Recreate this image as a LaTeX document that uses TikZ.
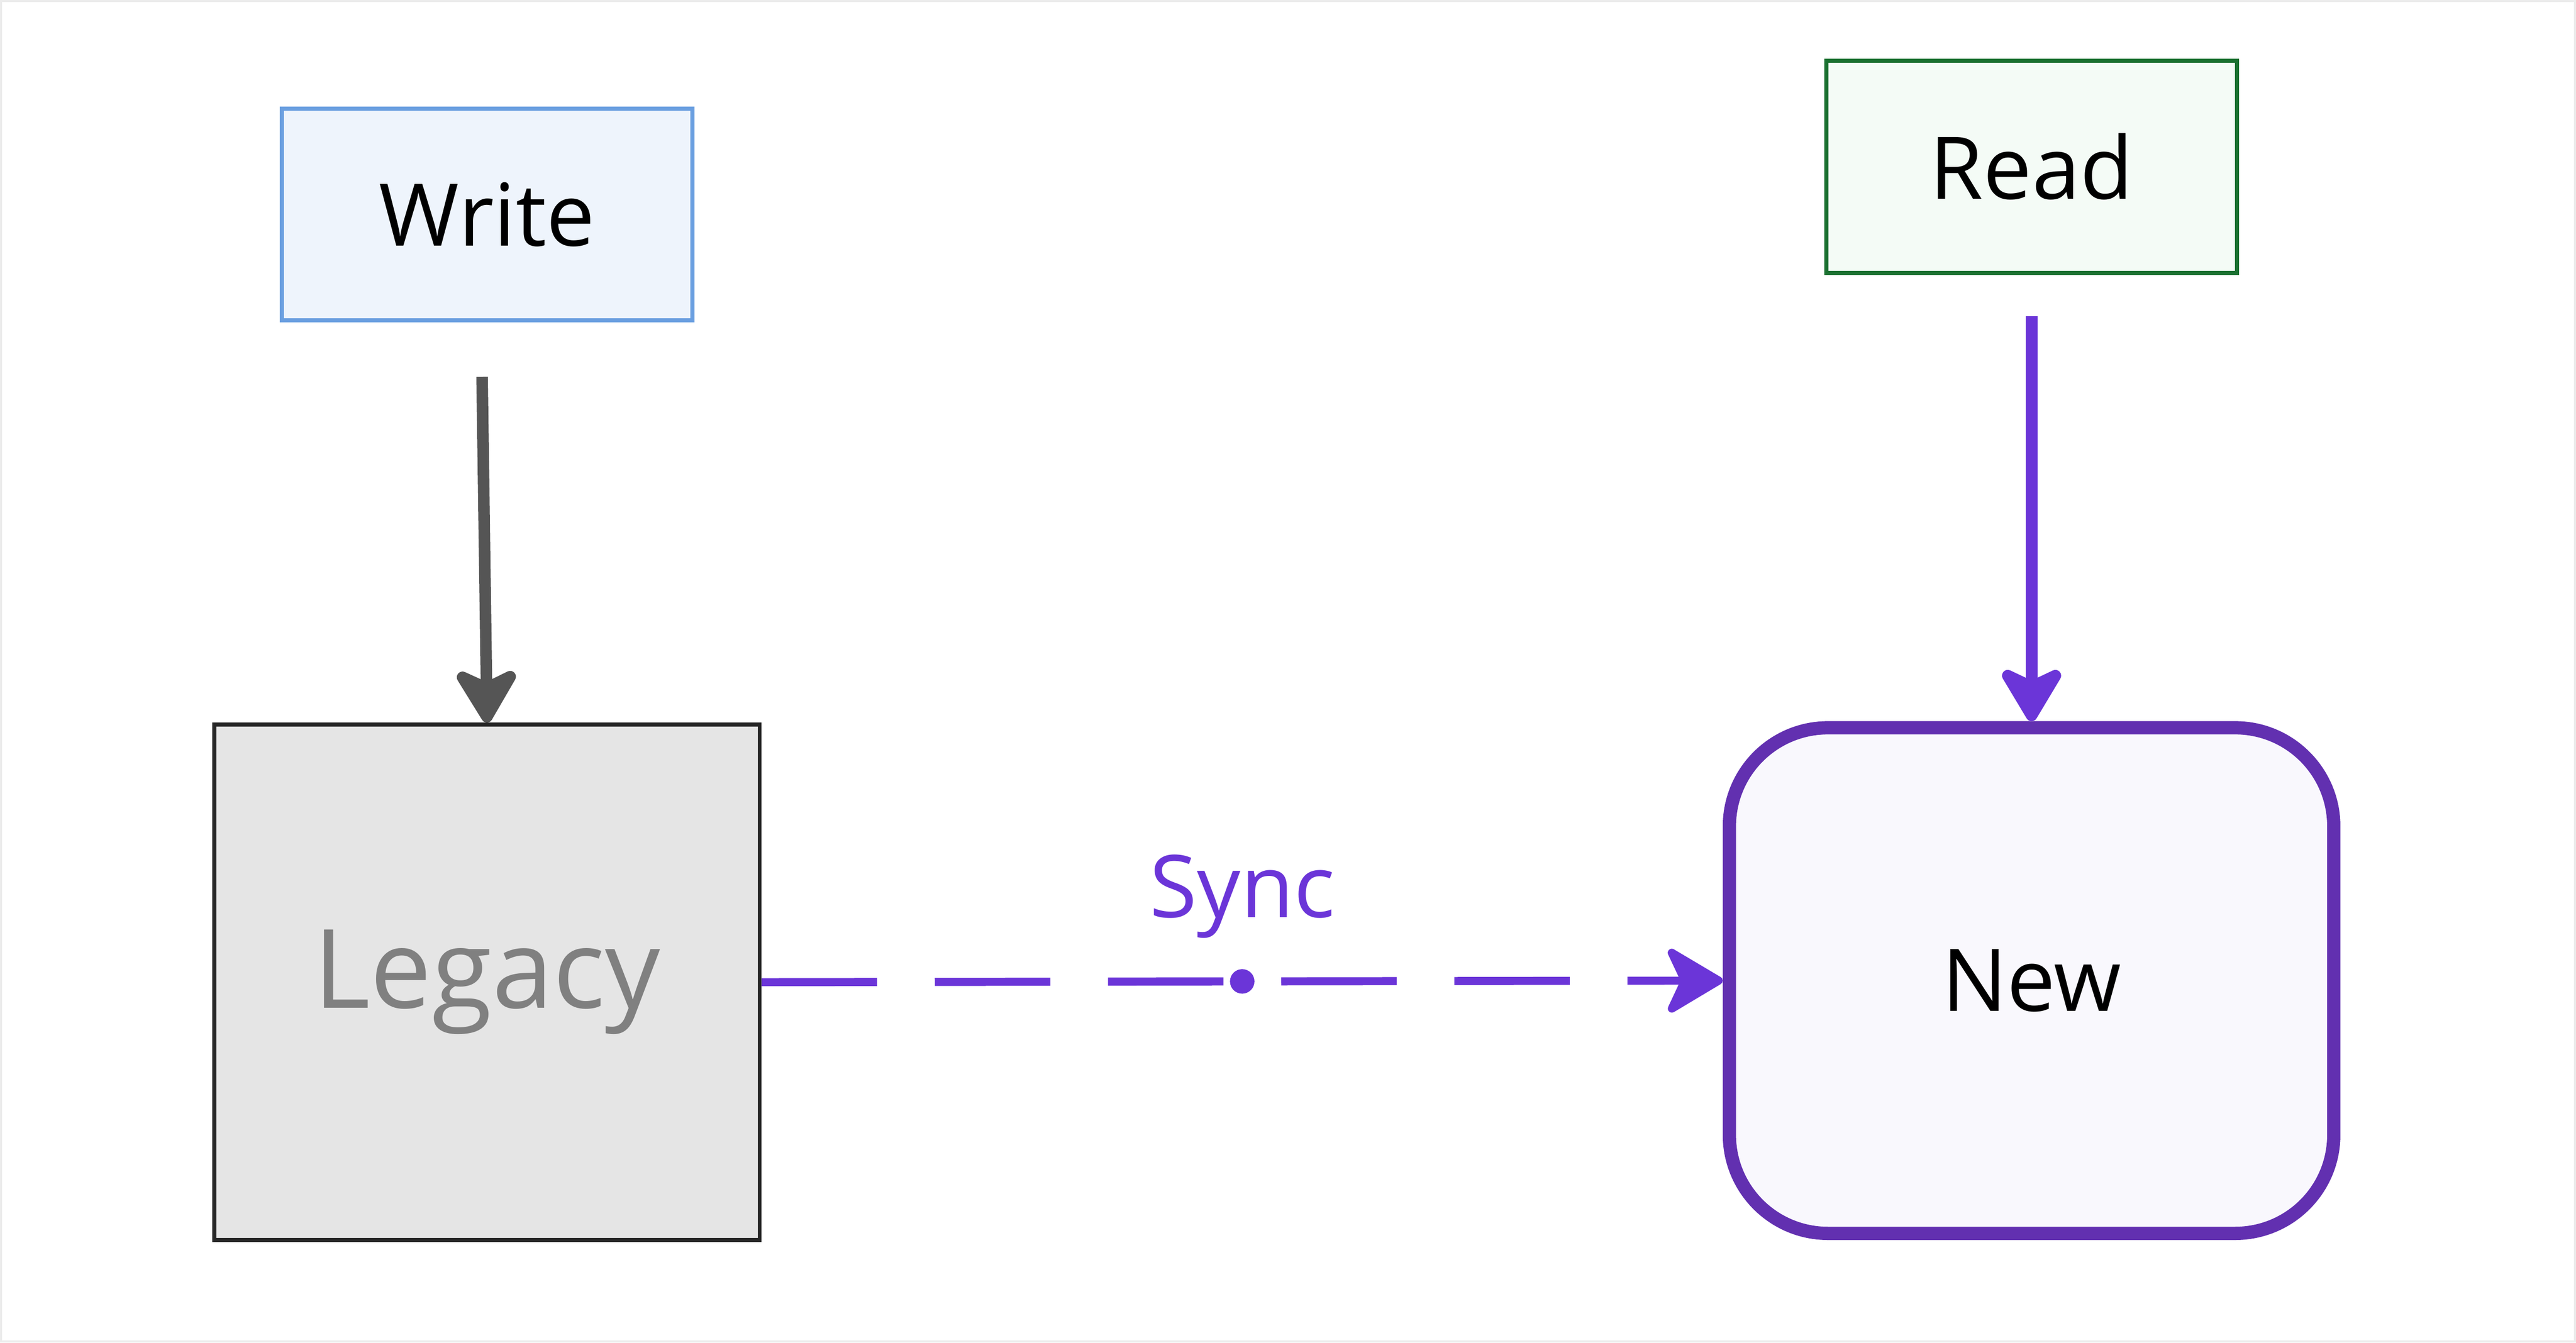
\documentclass[tikz,border=0pt]{standalone}
\usepackage{fontspec}
\setmainfont{Open Sans}
\usepackage{tikz}
\usetikzlibrary{arrows.meta}
\definecolor{writefill}{HTML}{EEF4FC}
\definecolor{writeline}{HTML}{6A9FE0}
\definecolor{readfill}{HTML}{F4FBF6}
\definecolor{readline}{HTML}{1A7030}
\definecolor{oldfill}{HTML}{E5E5E5}
\definecolor{newfill}{HTML}{F9F8FD}
\definecolor{newline}{HTML}{6230B0}
\definecolor{syncpurple}{HTML}{6B35D8}
\definecolor{arrowgray}{HTML}{555555}

\begin{document}
\begin{tikzpicture}[x=0.01cm, y=-0.01cm,
    box/.style={shape=rectangle, draw, inner sep=0pt, font=\fontsize{15}{18}\selectfont},
    flow/.style={line width=2pt, -{Stealth[length=11pt, width=13pt, inset=3pt, round]}}]
    \draw[gray!15, fill=white] (0,0) rectangle (1568,817);

    \node[box, fill=writefill, draw=writeline, line width=0.7pt,
          minimum width=2.5cm, minimum height=1.29cm] (write) at (296,130) {Write};
    \node[box, fill=readfill, draw=readline, line width=0.7pt,
          minimum width=2.5cm, minimum height=1.29cm] (read) at (1237,101) {Read};
    \node[box, fill=oldfill, draw=black!85, line width=0.7pt, text=gray,
          font=\fontsize{19}{22}\selectfont,
          minimum width=3.32cm, minimum height=3.14cm] (legacy) at (296,598) {Legacy};
    \node[box, fill=newfill, draw=newline, line width=2.3pt, rounded corners=0.6cm,
          minimum width=3.68cm, minimum height=3.08cm] (new) at (1237,597) {New};

    \coordinate (wstart) at (293,229);
    \coordinate (rstart) at (1237,192);
    \draw[flow, draw=arrowgray, fill=arrowgray] (wstart) -- (legacy.north);
    \draw[flow, draw=syncpurple, fill=syncpurple] (rstart) -- (new.north);
    \draw[flow, syncpurple, dash pattern=on 20pt off 10pt, line width=1.4pt] (legacy.east) -- (new.west)
        node[midway, circle, fill=syncpurple, inner sep=1.5pt] (mid) {};
    \node[text=syncpurple, font=\fontsize{15}{18}\selectfont, above=4pt] (sync) at (mid) {Sync};
\end{tikzpicture}
\end{document}
